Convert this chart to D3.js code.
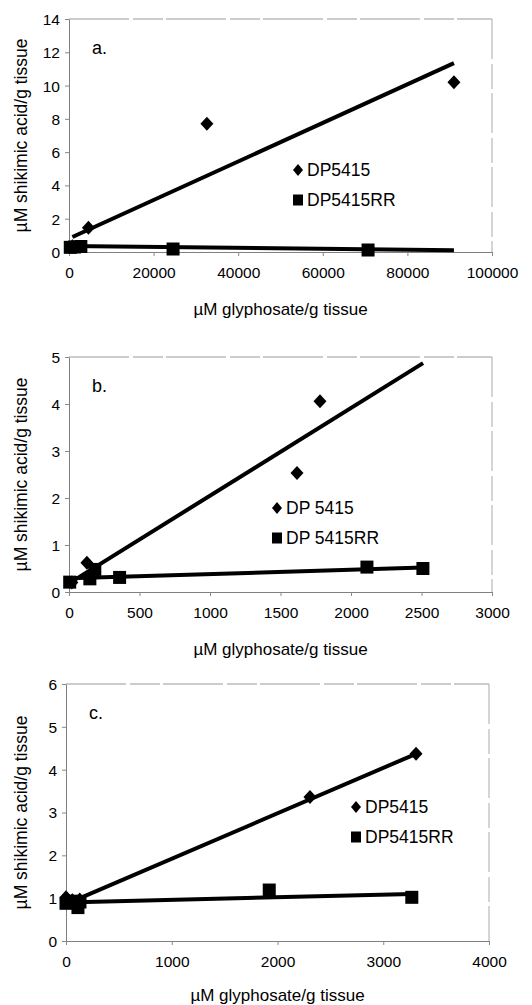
<!DOCTYPE html>
<html>
<head>
<meta charset="utf-8">
<script src="https://cdn.jsdelivr.net/npm/d3@7"></script>
<style>
body { margin: 0; background: #fff; }
text { font-family: "Liberation Sans", Arial, sans-serif; fill: #000; }
</style>
</head>
<body>
<svg id="chart"></svg>
<script>
// values: [x, y] = [uM glyphosate/g, uM shikimic acid/g]
const panelLabels = ["a.", "b.", "c."];
const seriesNames = [["DP5415", "DP5415RR"], ["DP 5415", "DP 5415RR"], ["DP5415", "DP5415RR"]];

const xTicksA = [0, 20000, 40000, 60000, 80000, 100000];
const yTicksA = [0, 2, 4, 6, 8, 10, 12, 14];
const dpA = [[800, 0.35], [4600, 1.45], [32600, 7.7], [91000, 10.2]];
const rrA = [[300, 0.28], [1300, 0.3], [2800, 0.33], [24600, 0.18], [70700, 0.12]];
const dpTrendA = [[800, 0.9], [91000, 11.35]];
const rrTrendA = [[0, 0.36], [91000, 0.1]];

const xTicksB = [0, 500, 1000, 1500, 2000, 2500, 3000];
const yTicksB = [0, 1, 2, 3, 4, 5];
const dpB = [[20, 0.2], [127, 0.62], [180, 0.4], [1617, 2.53], [1780, 4.06]];
const rrB = [[5, 0.21], [148, 0.28], [183, 0.48], [359, 0.31], [2113, 0.53], [2510, 0.5]];
const dpTrendB = [[20, 0.22], [2511, 4.87]];
const rrTrendB = [[5, 0.29], [2510, 0.52]];

const xTicksC = [0, 1000, 2000, 3000, 4000];
const yTicksC = [0, 1, 2, 3, 4, 5, 6];
const dpC = [[0, 1.02], [60, 0.95], [130, 0.97], [2307, 3.36], [3310, 4.37]];
const rrC = [[0, 0.88], [60, 0.93], [113, 0.78], [132, 0.91], [1922, 1.19], [3270, 1.02]];
const dpTrendC = [[0, 0.86], [3310, 4.37]];
const rrTrendC = [[0, 0.9], [3270, 1.1]];

const width = 532, height = 1005;
const svg = d3.select("#chart").attr("width", width).attr("height", height);
svg.append("rect").attr("width", width).attr("height", height).attr("fill", "#fff");

const panels = [
    { box: { l: 69, r: 492, t: 19, b: 252 }, xTicks: xTicksA, yTicks: yTicksA,
      dp: dpA, rr: rrA, dpTrend: dpTrendA, rrTrend: rrTrendA, leg: { x: 298, y: 170 } },
    { box: { l: 69, r: 492, t: 357, b: 592 }, xTicks: xTicksB, yTicks: yTicksB,
      dp: dpB, rr: rrB, dpTrend: dpTrendB, rrTrend: rrTrendB, leg: { x: 277, y: 508 } },
    { box: { l: 66, r: 489, t: 684, b: 941 }, xTicks: xTicksC, yTicks: yTicksC,
      dp: dpC, rr: rrC, dpTrend: dpTrendC, rrTrend: rrTrendC, leg: { x: 356, y: 807 } }
];

function diamond(g, x, y, w, h) {
    g.append("path")
        .attr("d", `M${x},${y - h}L${x + w},${y}L${x},${y + h}L${x - w},${y}Z`)
        .attr("fill", "#000");
}

panels.forEach((p, i) => {
    const b = p.box;
    const x = d3.scaleLinear().domain(d3.extent(p.xTicks)).range([b.l, b.r]);
    const y = d3.scaleLinear().domain(d3.extent(p.yTicks)).range([b.b, b.t]);
    const g = svg.append("g");

    // frame
    g.append("line").attr("x1", b.l).attr("x2", b.r).attr("y1", b.t).attr("y2", b.t)
        .attr("stroke", "#999").attr("stroke-dasharray", "60,4,30,3");
    g.append("line").attr("x1", b.r).attr("x2", b.r).attr("y1", b.t).attr("y2", b.b)
        .attr("stroke", "#aaa").attr("stroke-dasharray", "40,5,25,4");

    const xAxis = g.append("g").attr("transform", `translate(0,${b.b})`)
        .call(d3.axisBottom(x).tickValues(p.xTicks).tickSize(4).tickSizeOuter(0).tickFormat(d3.format("d")));
    const yAxis = g.append("g").attr("transform", `translate(${b.l},0)`)
        .call(d3.axisLeft(y).tickValues(p.yTicks).tickSize(4).tickSizeOuter(0).tickFormat(d3.format("d")));
    [xAxis, yAxis].forEach(a => {
        a.select(".domain").attr("stroke", "#808080");
        a.selectAll(".tick line").attr("stroke", "#888");
        a.selectAll("text").attr("font-size", 15.5).attr("font-family", "Liberation Sans, Arial, sans-serif").attr("fill", "#000");
    });
    xAxis.selectAll("text").attr("dy", null).attr("y", 26);
    yAxis.selectAll("text").attr("x", -9).attr("dy", "0.35em");

    // axis titles
    g.append("text").attr("x", (b.l + b.r) / 2).attr("y", b.b + (i === 2 ? 60 : 63))
        .attr("text-anchor", "middle").attr("font-size", 17).text("\u00b5M glyphosate/g tissue");
    g.append("text").attr("transform", `translate(27,${(b.t + b.b) / 2}) rotate(-90)`)
        .attr("text-anchor", "middle").attr("font-size", 17.5).text("\u00b5M shikimic acid/g tissue");

    // panel letter
    g.append("text").attr("x", b.l + 23).attr("y", b.t + 35).attr("font-size", 18).text(panelLabels[i]);

    // markers
    p.dp.forEach(d => diamond(g, x(d[0]), y(d[1]), 6.5, 7));
    g.selectAll(".sq").data(p.rr).enter().append("rect")
        .attr("x", d => x(d[0]) - 6.5).attr("y", d => y(d[1]) - 6.5)
        .attr("width", 13).attr("height", 13).attr("fill", "#000");

    // trendlines
    const line = d3.line().x(d => x(d[0])).y(d => y(d[1]));
    [p.dpTrend, p.rrTrend].forEach(t => {
        g.append("path").attr("d", line(t)).attr("fill", "none")
            .attr("stroke", "#000").attr("stroke-width", 4);
    });

    // legend
    const lg = svg.append("g");
    diamond(lg, p.leg.x, p.leg.y, 5, 6);
    lg.append("rect").attr("x", p.leg.x - 5).attr("y", p.leg.y + 30 - 5.5)
        .attr("width", 10).attr("height", 11).attr("fill", "#000");
    seriesNames[i].forEach((n, k) => {
        lg.append("text").attr("x", p.leg.x + 9).attr("y", p.leg.y + k * 30 + 6)
            .attr("font-size", 17.5).text(n);
    });
});
</script>
</body>
</html>
